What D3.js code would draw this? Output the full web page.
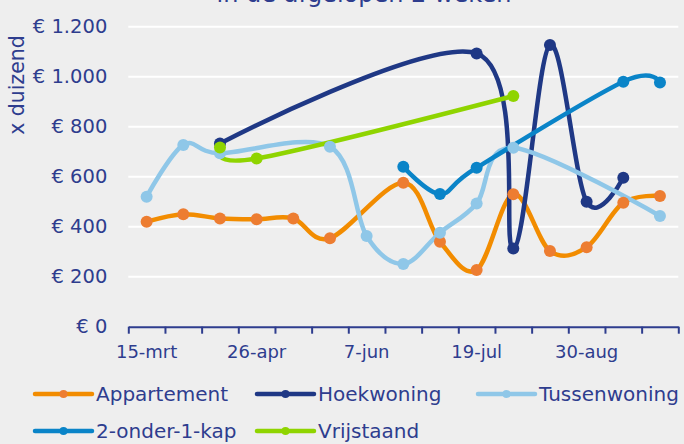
<!DOCTYPE html>
<html>
<head>
<meta charset="utf-8">
<script src="https://cdn.jsdelivr.net/npm/d3@7"></script>
<style>
html,body{margin:0;padding:0;background:#eeeeee;}
svg{display:block;}
text{font-family:"DejaVu Sans",sans-serif;}
</style>
</head>
<body>
<svg id="chart" width="684" height="444"></svg>
<script>
const title = "in de afgelopen 2 weken";
const yTitle = "x duizend";
const categories = ["15-mrt","29-mrt","12-apr","26-apr","10-mei","24-mei","7-jun","21-jun","5-jul","19-jul","2-aug","16-aug","30-aug","13-sep","27-sep"];
const tickLabels = ["15-mrt","26-apr","7-jun","19-jul","30-aug"];
const yTicks = [0,200,400,600,800,1000,1200];
const seriesNames = ["Appartement","Hoekwoning","Tussenwoning","2-onder-1-kap","Vrijstaand"];
const appartement   = [420,450,433,430,433,354,null,576,340,227,530,303,318,496,523];
const hoekwoning    = [null,null,733,null,null,null,null,null,null,1093,313,1127,500,596,null];
const tussenwoning  = [520,727,694,null,null,720,363,251,376,493,716,null,null,null,443];
const tweeOnder1Kap = [null,null,null,null,null,null,null,640,531,636,null,null,null,980,977];
const vrijstaand    = [null,null,717,673,null,null,null,null,null,null,923,null,null,null,null];
const lineColors   = ["#f28c00","#1f3885","#8fc7e8","#0a84c8","#8fd400"];
const markerColors = ["#ed7d31","#1f3885","#8fc7e8","#0a84c8","#8fd400"];

const seriesValues = [appartement,hoekwoning,tussenwoning,tweeOnder1Kap,vrijstaand];
const textColor = "#2e3d8e";
const svg = d3.select("#chart");
svg.append("rect").attr("width",684).attr("height",444).attr("fill","#eeeeee");

const pLeft = 128.3, pRight = 678.3, pTop = 26.7, pBottom = 326.7;
const x = d3.scaleBand().domain(categories).range([pLeft,pRight]).paddingInner(0).paddingOuter(0);
const xEdges = d3.scaleLinear().domain([0,categories.length]).range([pLeft,pRight]);
const y = d3.scaleLinear().domain([0,1200]).range([pBottom,pTop]);

// title (mostly cut off at top, as in the reference)
svg.append("text").attr("x",364).attr("y",1.5).attr("text-anchor","middle")
  .attr("font-size",24).attr("fill",textColor).text(title);

// gridlines
svg.append("g").selectAll("line").data(yTicks.filter(d=>d>0)).join("line")
  .attr("x1",pLeft).attr("x2",pRight).attr("y1",d=>y(d)).attr("y2",d=>y(d))
  .attr("stroke","#ffffff").attr("stroke-width",2);

// y axis labels
const yAxis = svg.append("g").attr("transform",`translate(${pLeft},0)`)
  .call(d3.axisLeft(y).tickValues(yTicks).tickSize(0).tickPadding(21)
    .tickFormat(d=>"€ " + d3.format(",")(d).replace(/,/g,".")));
yAxis.select(".domain").remove();
yAxis.selectAll("text").attr("font-size",19.5).attr("fill",textColor).attr("font-family","DejaVu Sans");

// y title
svg.append("text").attr("transform","translate(24,85) rotate(-90)").attr("text-anchor","middle")
  .attr("font-size",20.5).attr("fill",textColor).text(yTitle);

// x axis: boundary ticks
const xTickAxis = svg.append("g").attr("transform",`translate(0,${pBottom})`)
  .call(d3.axisBottom(xEdges).tickValues(d3.range(categories.length+1)).tickSize(7).tickSizeOuter(0).tickFormat(""));
xTickAxis.select(".domain").attr("stroke",textColor).attr("stroke-width",2);
xTickAxis.selectAll(".tick line").attr("stroke",textColor).attr("stroke-width",2);

// x axis labels
const xLabelAxis = svg.append("g").attr("transform",`translate(0,${pBottom})`)
  .call(d3.axisBottom(x).tickValues(tickLabels).tickSize(0).tickPadding(19));
xLabelAxis.select(".domain").remove();
xLabelAxis.selectAll("text").attr("font-size",18).attr("fill",textColor).attr("font-family","DejaVu Sans");

// series
const line = d3.line().x(d=>x(d.c)+x.bandwidth()/2).y(d=>y(d.v)).curve(d3.curveCardinal.tension(0));
const seriesData = seriesValues.map(vals => vals.map((v,i)=>({c:categories[i],v})).filter(d=>d.v!==null));
const lines = svg.append("g");
seriesData.forEach((pts,i)=>{
  lines.append("path").datum(pts).attr("d",line).attr("fill","none")
    .attr("stroke",lineColors[i]).attr("stroke-width",4.5).attr("stroke-linejoin","round").attr("stroke-linecap","round");
});
const markers = svg.append("g");
seriesData.forEach((pts,i)=>{
  markers.append("g").selectAll("circle").data(pts).join("circle")
    .attr("cx",d=>x(d.c)+x.bandwidth()/2).attr("cy",d=>y(d.v)).attr("r",6).attr("fill",markerColors[i]);
});

// legend
const legendPos = [[35,394],[257,394],[478,394],[35,431],[257,431]];
const legend = svg.append("g");
seriesNames.forEach((name,i)=>{
  const [lx,ly] = legendPos[i];
  const g = legend.append("g").attr("transform",`translate(${lx},${ly})`);
  g.append("line").attr("x1",0).attr("x2",57).attr("y1",0).attr("y2",0)
    .attr("stroke",lineColors[i]).attr("stroke-width",4.5).attr("stroke-linecap","round");
  g.append("circle").attr("cx",28.5).attr("cy",0).attr("r",4).attr("fill",markerColors[i]);
  g.append("text").attr("x",61).attr("y",7).attr("font-size",20).attr("fill",textColor).text(name);
});
</script>
</body>
</html>
